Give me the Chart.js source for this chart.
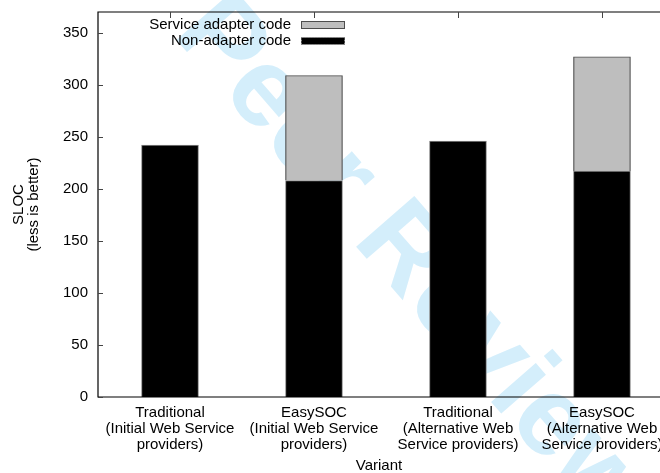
<!DOCTYPE html>
<html>
<head>
<meta charset="utf-8">
<script src="https://cdn.jsdelivr.net/npm/chart.js@4.4.0/dist/chart.umd.min.js"></script>
<style>
  body { margin: 0; background: #fff; }
</style>
</head>
<body>
<canvas id="myChart" width="660" height="473"></canvas>
<script>
const categories = [
    ['Traditional', '(Initial Web Service', 'providers)'],
    ['EasySOC', '(Initial Web Service', 'providers)'],
    ['Traditional', '(Alternative Web', 'Service providers)'],
    ['EasySOC', '(Alternative Web', 'Service providers)']
];
const nonAdapterCode = [242, 208, 246, 217];
const adapterCode = [0, 101, 0, 110];
const yTicks = [0, 50, 100, 150, 200, 250, 300, 350];

const FONT = '"Liberation Sans", Arial, Helvetica, sans-serif';
Chart.defaults.font.family = FONT;
Chart.defaults.font.size = 15;
Chart.defaults.color = '#000';

// light cyan review stamp behind everything
const watermark = {
    id: 'watermark',
    beforeDraw(chart) {
        const ctx = chart.ctx;
        const size = 112;
        ctx.save();
        ctx.font = 'bold ' + size + 'px ' + FONT;
        ctx.fillStyle = '#d4eefb';
        ctx.textBaseline = 'alphabetic';
        // centre of the first "e" of "Peer"
        const back = ctx.measureText('For P').width + ctx.measureText('e').width / 2;
        ctx.translate(263, 95);
        ctx.rotate(49 * Math.PI / 180);
        ctx.fillText('For Peer Review', -back, size * 0.26);
        ctx.restore();
    }
};

// gnuplot style frame with inward ticks
const frame = {
    id: 'frame',
    afterDatasetsDraw(chart) {
        const {ctx, chartArea: a, scales: {x, y}} = chart;
        ctx.save();
        ctx.strokeStyle = '#000';
        ctx.lineWidth = 1.2;
        ctx.beginPath();
        ctx.moveTo(a.right, a.top);
        ctx.lineTo(a.left, a.top);
        ctx.lineTo(a.left, a.bottom);
        ctx.lineTo(a.right, a.bottom);
        ctx.stroke();
        ctx.strokeStyle = '#444';
        ctx.lineWidth = 1;
        ctx.beginPath();
        for (const v of yTicks) {
            const py = Math.round(y.getPixelForValue(v)) + 0.5;
            ctx.moveTo(a.left, py);
            ctx.lineTo(a.left + 5, py);
        }
        categories.forEach((c, i) => {
            const px = Math.round(x.getPixelForValue(i)) + 0.5;
            ctx.moveTo(px, a.top);
            ctx.lineTo(px, a.top + 6);
        });
        ctx.stroke();
        ctx.restore();
    }
};

const keyBox = {
    id: 'keyBox',
    afterDraw(chart) {
        const ctx = chart.ctx;
        const items = [chart.data.datasets[1], chart.data.datasets[0]];
        ctx.save();
        ctx.font = '15px ' + FONT;
        ctx.textAlign = 'right';
        ctx.textBaseline = 'middle';
        items.forEach((ds, i) => {
            const cy = 25 + i * 16;
            ctx.fillStyle = '#000';
            ctx.fillText(ds.label, 291, cy);
            ctx.fillStyle = ds.backgroundColor;
            ctx.fillRect(301, cy - 3.5, 44, 7);
            ctx.strokeStyle = ds.borderColor;
            ctx.lineWidth = 1;
            if (i === 1) ctx.setLineDash([2, 1]);
            ctx.strokeRect(301.5, cy - 3.5, 43, 7);
            ctx.setLineDash([]);
        });
        ctx.restore();
    }
};

const ctx = document.getElementById('myChart').getContext('2d');
const myChart = new Chart(ctx, {
    type: 'bar',
    data: {
        datasets: [{
            label: 'Non-adapter code',
            data: nonAdapterCode.map((v, i) => ({ x: i, y: v })),
            backgroundColor: '#000000',
            borderColor: '#8a8a8a',
            borderWidth: 1,
            barThickness: 57
        }, {
            label: 'Service adapter code',
            data: adapterCode.map((v, i) => ({ x: i, y: v })),
            backgroundColor: '#bebebe',
            borderColor: '#4d4d4d',
            borderWidth: 1.2,
            barThickness: 57
        }]
    },
    plugins: [watermark, frame, keyBox],
    options: {
        responsive: false,
        animation: false,
        layout: { padding: { top: 12, right: 0, bottom: 0, left: 0 } },
        plugins: {
            legend: { display: false },
            tooltip: { enabled: false }
        },
        scales: {
            x: {
                type: 'linear',
                stacked: true,
                offset: false,
                min: -0.5,
                max: 3.403,
                afterBuildTicks: (s) => { s.ticks = categories.map((c, i) => ({ value: i })); },
                afterFit: (s) => { s.height = 76; s.paddingLeft = 0; s.paddingRight = 0; },
                grid: { display: false, drawTicks: false, offset: false },
                border: { display: false },
                ticks: {
                    padding: 8,
                    maxRotation: 0,
                    autoSkip: false,
                    font: { size: 15, lineHeight: 1.05 },
                    callback: (v) => categories[v]
                },
                title: {
                    display: true,
                    text: 'Variant',
                    font: { size: 15, lineHeight: 1 },
                    padding: { top: 0, bottom: 0 }
                }
            },
            y: {
                stacked: true,
                min: 0,
                max: 370,
                afterBuildTicks: (s) => { s.ticks = yTicks.map((v) => ({ value: v })); },
                afterFit: (s) => { s.width = 98; s.paddingTop = 0; s.paddingBottom = 0; },
                grid: { display: false, drawTicks: false },
                border: { display: false },
                ticks: { padding: 10, font: { size: 15 } },
                title: {
                    display: true,
                    text: ['SLOC', '(less is better)'],
                    font: { size: 15, lineHeight: 1 },
                    padding: { top: 11.5, bottom: 0 }
                }
            }
        }
    }
});
</script>
</body>
</html>
